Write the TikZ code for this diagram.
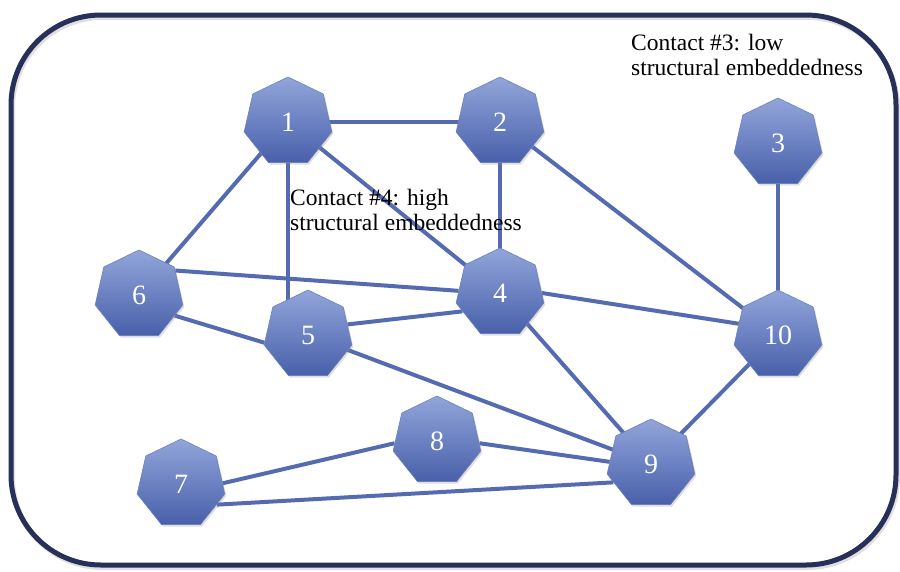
\documentclass[tikz,border=0pt]{standalone}
\usepackage{fontspec}
\setmainfont{Liberation Serif}
\usetikzlibrary{shapes.geometric,shadows,backgrounds}
\definecolor{edgecol}{RGB}{84,107,178}
\definecolor{nodetop}{RGB}{146,165,218}
\definecolor{nodebot}{RGB}{72,96,170}
\definecolor{framecol}{RGB}{38,48,88}
\tikzset{
  hepta/.style={regular polygon, regular polygon sides=7, minimum size=90pt, inner sep=0pt,
    top color=nodetop, bottom color=nodebot, draw=nodebot!80!white, line width=0.6pt,
    text=white, font=\fontsize{28}{28}\selectfont,
    drop shadow={shadow xshift=1.5pt, shadow yshift=-2pt, opacity=0.25}},
  link/.style={draw=edgecol, line width=4pt},
  note/.style={align=left, anchor=north west, inner sep=0pt, font=\fontsize{23.5}{25}\selectfont, text=black}
}
\begin{document}
\begin{tikzpicture}[x=1pt,y=-1pt]
\useasboundingbox (0,0) rectangle (900,571);
\draw[black!12, line width=5pt, rounded corners=90pt] (12.5,17.5) rectangle (897.5,567.5);
\draw[framecol, line width=5pt, rounded corners=90pt] (11,15) rectangle (896,565);
\node[hepta] (n1) at (288,122) {1};
\node[hepta] (n2) at (500,122) {2};
\node[hepta] (n3) at (778,143) {3};
\node[hepta] (n4) at (500,293) {4};
\node[hepta] (n5) at (308,335) {5};
\node[hepta] (n6) at (139,295) {6};
\node[hepta] (n7) at (181,484) {7};
\node[hepta] (n8) at (437,441) {8};
\node[hepta] (n9) at (651,464) {9};
\node[hepta] (n10) at (778,335) {10};
\begin{scope}[on background layer]
\draw[link] (n1.center) -- (n2.center);
\draw[link] (n1.center) -- (n6.center);
\draw[link] (n1.center) -- (n1.center |- n5.center);
\draw[link] (n1.center) -- (n4.center);
\draw[link] (n2.center) -- (n4.center);
\draw[link] (n2.center) -- (n10.center);
\draw[link] (n3.center) -- (n10.center);
\draw[link] (n6.34) -- (n4.177);
\draw[link] (n6.-30) -- (n5.190);
\draw[link] (n5.15) -- (n4.206);
\draw[link] (n4.0) -- (n10.164);
\draw[link] (n4.center) -- (n9.center);
\draw[link] (n5.center) -- (n9.center);
\draw[link] (n10.center) -- (n9.center);
\draw[link] (n8.-3) -- (n9.177);
\draw[link] (n7.1) -- (n8.183);
\draw[link] (n7.-30) -- (n9.206);
\end{scope}
\node[note] (c3) at (631,34) {Contact \#3: low\\structural embeddedness};
\node[note] (c4) at (290,189) {Contact \#4: high\\structural embeddedness};
\end{tikzpicture}
\end{document}
